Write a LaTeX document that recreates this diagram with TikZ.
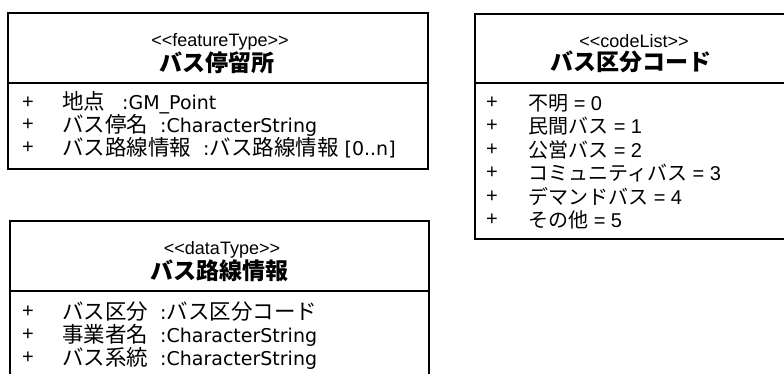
\documentclass[tikz,border=0pt]{standalone}
\usepackage{fontspec}
\setmainfont{Liberation Sans}
\newfontfamily\jp{Noto Sans CJK JP}
\newfontfamily\latt{DejaVu Sans}
\newcommand\jtxt[1]{{\fontsize{21.5}{22}\selectfont\jp #1}}
\newcommand\jtxtb[1]{{\fontsize{20}{22}\selectfont\jp #1}}
\tikzset{
  classbox/.style={draw=black, line width=1.6pt, fill=none, inner sep=0pt, anchor=north west},
  divider/.style={draw=black, line width=1.6pt},
  stereo/.style={inner sep=0pt, anchor=center, font=\fontsize{18}{20}\selectfont},
  cname/.style={inner sep=0pt, anchor=center, font=\fontsize{23}{25}\selectfont\jp\bfseries},
  plus/.style={inner sep=0pt, anchor=center, font=\fontsize{20}{22}\selectfont},
  attr/.style={inner sep=0pt, anchor=west, font=\fontsize{19}{22}\selectfont\latt},
  codeattr/.style={inner sep=0pt, anchor=west, font=\fontsize{20}{22}\selectfont}
}
\begin{document}
\begin{tikzpicture}[x=1pt,y=-1pt]
\path[use as bounding box, clip] (0,0) rectangle (784,374);
\fill[white] (0,0) rectangle (784,374);

% Box 1: featureType
\node[classbox, minimum width=420pt, minimum height=156pt] (b1) at (7,12) {};
\coordinate (b1l) at (7,83);
\coordinate (b1r) at (427,83);
\draw[divider] (b1l) -- (b1r);
\node[stereo] (b1s) at (220,42) {<\kern0pt<featureType>\kern0pt>};
\node[cname] (b1n) at (217,63) {バス停留所};
\node[plus] (b1p1) at (28,103) {+};
\node[plus] (b1p2) at (28,125) {+};
\node[plus] (b1p3) at (28,148) {+};
\node[attr] (b1a1) at (62,103) {\jtxt{地点}\hspace{17pt}:GM\_Point};
\node[attr] (b1a2) at (62,125) {\jtxt{バス停名}\hspace{12pt}:CharacterString};
\node[attr] (b1a3) at (62,148) {\jtxt{バス路線情報}\hspace{12pt}:\jtxt{バス路線情報} [0..n]};

% Box 2: codeList
\node[classbox, minimum width=318pt, minimum height=225pt] (b2) at (474,13) {};
\coordinate (b2l) at (474,83);
\coordinate (b2r) at (792,83);
\draw[divider] (b2l) -- (b2r);
\node[stereo] (b2s) at (634,41) {<\kern0pt<codeList>\kern0pt>};
\node[cname] (b2n) at (631,62) {バス区分コード};
\node[plus] (b2p1) at (492,103) {+};
\node[plus] (b2p2) at (492,126) {+};
\node[plus] (b2p3) at (492,150) {+};
\node[plus] (b2p4) at (492,173) {+};
\node[plus] (b2p5) at (492,197) {+};
\node[plus] (b2p6) at (492,220) {+};
\node[codeattr] (b2a1) at (528,103) {\jtxtb{不明} = 0};
\node[codeattr] (b2a2) at (528,126) {\jtxtb{民間バス} = 1};
\node[codeattr] (b2a3) at (528,150) {\jtxtb{公営バス} = 2};
\node[codeattr] (b2a4) at (528,173) {\jtxtb{コミュニティバス} = 3};
\node[codeattr] (b2a5) at (528,197) {\jtxtb{デマンドバス} = 4};
\node[codeattr] (b2a6) at (528,220) {\jtxtb{その他} = 5};

% Box 3: dataType
\node[classbox, minimum width=419pt, minimum height=200pt] (b3) at (9,220) {};
\coordinate (b3l) at (9,291);
\coordinate (b3r) at (428,291);
\draw[divider] (b3l) -- (b3r);
\node[stereo] (b3s) at (222,250) {<\kern0pt<dataType>\kern0pt>};
\node[cname] (b3n) at (219,271) {バス路線情報};
\node[plus] (b3p1) at (28,312) {+};
\node[plus] (b3p2) at (28,335) {+};
\node[plus] (b3p3) at (28,358) {+};
\node[attr] (b3a1) at (62,312) {\jtxt{バス区分}\hspace{12pt}:\jtxt{バス区分コード}};
\node[attr] (b3a2) at (62,335) {\jtxt{事業者名}\hspace{12pt}:CharacterString};
\node[attr] (b3a3) at (62,358) {\jtxt{バス系統}\hspace{12pt}:CharacterString};
\end{tikzpicture}
\end{document}
